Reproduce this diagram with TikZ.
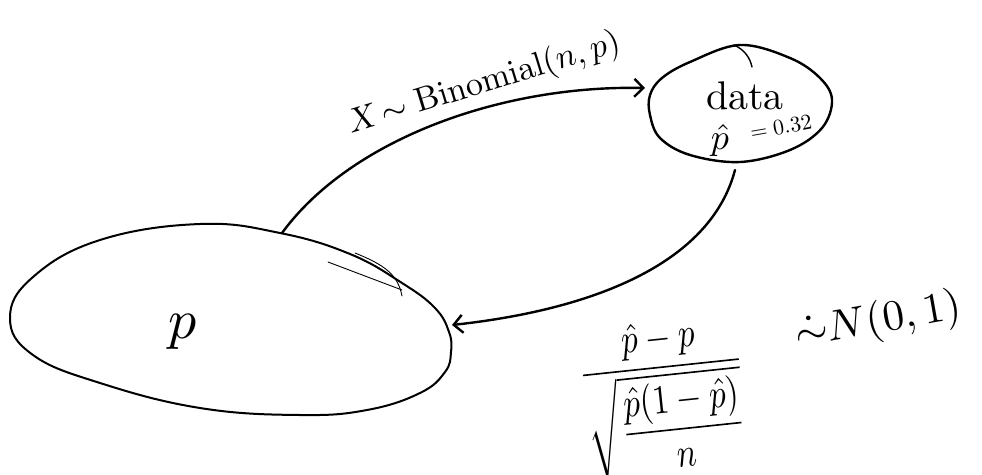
\documentclass[tikz,border=0pt]{standalone}
\usepackage{amsmath}
\usepackage{graphicx}
\usetikzlibrary{arrows.meta}
\begin{document}
\begin{tikzpicture}[x=1pt,y=-1pt,
  outline/.style={line width=2pt,line cap=round,line join=round},
  thinline/.style={line width=0.9pt,line cap=round},
  conn/.style={line width=2.4pt,line cap=round,-{Straight Barb[length=9pt,width=18pt,line width=2.4pt]}},
  hand/.style={inner sep=0pt,outer sep=0pt}]
\useasboundingbox (0,0) rectangle (982,474);
% population blob
\draw[outline] plot[smooth cycle,tension=0.7] coordinates {(100,240) (200,224) (280,233) (350,254) (402,283) (435,308) (449,332) (451,352) (445,372) (420,393) (367,410) (300,415) (200,408) (100,383) (33,355) (10,318) (33,277)};
\draw[thinline] (328,262) -- (402,290);
\draw[thinline] (355,253) .. controls (385,265) and (398,275) .. (402,296);
% data blob
\draw[outline,line width=2.4pt] plot[smooth cycle,tension=0.6] coordinates {(650,95) (662,78) (690,62) (740,45) (790,58) (820,78) (832,100) (822,128) (790,150) (740,162) (690,155) (660,138) (650,115)};
\draw[thinline,line width=1.4pt] (734,45) .. controls (745,50) and (750,58) .. (752,67);
% named ends
\coordinate (popTop) at (282,233);
\coordinate (popRight) at (452,325);
\coordinate (dataLeft) at (645,88);
\coordinate (dataBottom) at (735,170);
% text
\node[hand] (p) at (183,332) {\scalebox{5.6}{$p$}};
\node[hand] (data) at (745,96) {\scalebox{4}{data}};
\node[hand] (phat) at (720,140) {\scalebox{3.6}{$\hat p$}};
\node[hand,rotate=10] (pval) at (781,127) {\scalebox{2.2}{$=0.32$}};
\node[hand,rotate=17] (lab) at (484,84) {\scalebox{3.4}{$X\!\sim \mathrm{Binomial}(n,p)$}};
% connectors
\draw[conn] (popTop) .. controls (350,140) and (500,85) .. (dataLeft);
\draw[conn] (dataBottom) .. controls (710,265) and (590,310) .. (popRight);
% formula
\node[hand,rotate=6] (frac) at (664,397) {\scalebox{3.3}[4.1]{$\dfrac{\hat p - p}{\sqrt{\dfrac{\hat p(1-\hat p)}{n}}}$}};
\node[hand,rotate=10] (dist) at (878,322) {\scalebox{4.3}{$\dot\sim N(0,1)$}};
\end{tikzpicture}
\end{document}
